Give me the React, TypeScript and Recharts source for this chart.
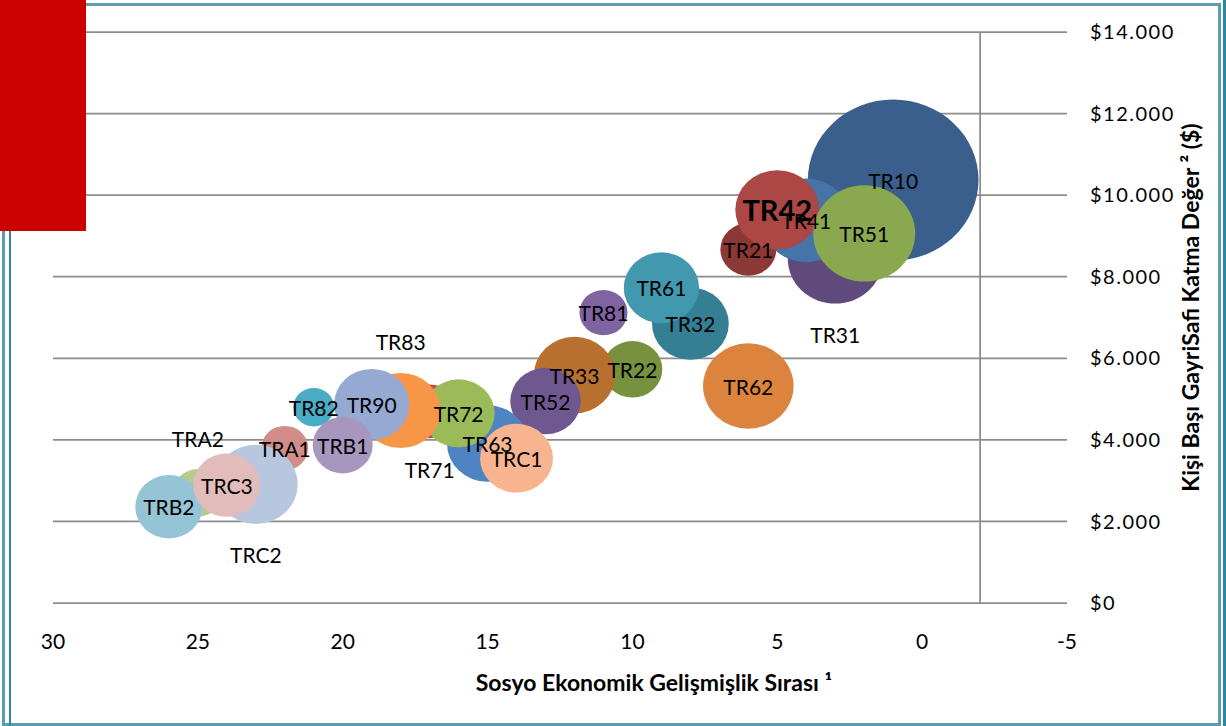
import React from 'react';
import { ScatterChart, Scatter, XAxis, YAxis, ZAxis, CartesianGrid, ReferenceLine, LabelList } from 'recharts';

// NUTS-2 regions, in drawing order
const regions = [
  'TR10', 'TR21', 'TR22', 'TR31', 'TR32', 'TR33', 'TR41', 'TR42', 'TR51', 'TR52', 'TR61', 'TR62', 'TR63',
  'TR71', 'TR72', 'TR81', 'TR82', 'TR83', 'TR90', 'TRA1', 'TRA2', 'TRB1', 'TRB2', 'TRC1', 'TRC2', 'TRC3',
];
// socio-economic development rank (x)
const seRank = [1, 6, 10, 3, 8, 12, 4, 5, 2, 13, 9, 6, 15, 17, 16, 11, 21, 18, 19, 22, 25, 20, 26, 14, 23, 24];
// gross value added per capita, $ (y)
const gvaPerCapita = [
  10370, 8670, 5730, 8440, 6850, 5590, 9380, 9640, 9060, 4950, 7730, 5320, 3910,
  4700, 4650, 7120, 4800, 4720, 4870, 3800, 2700, 3870, 2360, 3550, 2910, 2890,
];
// population, thousands (bubble size)
const population = [
  12600, 1350, 1550, 3900, 2550, 2850, 3400, 3050, 4500, 2150, 2450, 3550, 2850,
  1400, 2250, 1000, 720, 2750, 2450, 950, 1100, 1550, 1950, 2300, 3050, 1950,
];

const xTicks = [30, 25, 20, 15, 10, 5, 0, -5];
const yTicks = [0, 2000, 4000, 6000, 8000, 10000, 12000, 14000];

const xTitle = 'Sosyo Ekonomik Gelişmişlik Sırası ¹';
const yTitle = 'Kişi Başı GayriSafi Katma Değer ² ($)';

const bubbleColors: Record<string, string> = {
  TR10: '#3b5f8c', TR21: '#8c3836', TR22: '#77913f', TR31: '#5f4a7b', TR32: '#357f94', TR33: '#b8702f',
  TR41: '#4673a8', TR42: '#ab4744', TR51: '#8aa84f', TR52: '#6f578f', TR61: '#4198af', TR62: '#dc843d',
  TR63: '#4f84c2', TR71: '#c0504d', TR72: '#9bbb59', TR81: '#8064a2', TR82: '#4bacc6', TR83: '#f79646',
  TR90: '#95a9d3', TRA1: '#d38d88', TRA2: '#b6cb8e', TRB1: '#a797be', TRB2: '#94c4d6', TRC1: '#f8b48f',
  TRC2: '#b8c7e0', TRC3: '#e2bcbb',
};

// labels that sit outside their bubble
const labelPlacement: Record<string, 'above' | 'below'> = {
  TR31: 'below', TR71: 'below', TRC2: 'below', TR83: 'above', TRA2: 'above',
};

const points = regions.map((name, i) => ({
  name,
  rank: seRank[i],
  gva: gvaPerCapita[i],
  pop: population[i],
}));

const FONT = 'Lato, "Open Sans", sans-serif';
const STRETCH = 1.06;

const Bubble = (props: any) => {
  const { cx, cy, width, height, payload } = props;
  return (
    <ellipse
      cx={cx}
      cy={cy}
      rx={(width / 2) * STRETCH}
      ry={height / 2}
      fill={bubbleColors[payload?.name] ?? props.fill}
    />
  );
};

const BubbleLabel = (props: any) => {
  const vb = props.viewBox ?? props;
  const value = props.value;
  const r = vb.height / 2;
  const cx = vb.x + vb.width / 2;
  const cy = vb.y + vb.height / 2;
  const place = labelPlacement[value];
  const y = place === 'above' ? cy - r - 31 : place === 'below' ? cy + r + 31 : cy;
  const bold = value === 'TR42';
  return (
    <text
      x={cx}
      y={y}
      textAnchor="middle"
      dominantBaseline="central"
      fontFamily={FONT}
      fontSize={bold ? 29 : 21}
      fontWeight={bold ? 700 : 400}
      fill="#000"
    >
      {value}
    </text>
  );
};

const formatDollar = (v: number) => '$' + String(v).replace(/\B(?=(\d{3})+(?!\d))/g, '.');

const XTitle = (props: any) => {
  const vb = props.viewBox;
  return (
    <text x={vb.x + vb.width / 2 + 94} y={691} textAnchor="middle" fontFamily={FONT} fontSize={23} fontWeight={700} fill="#000">
      {xTitle}
    </text>
  );
};

const YTitle = (props: any) => {
  const vb = props.viewBox;
  const x = 1199;
  const y = vb.y + vb.height / 2 - 10;
  return (
    <text
      x={x}
      y={y}
      transform={`rotate(-90, ${x}, ${y})`}
      textAnchor="middle"
      fontFamily={FONT}
      fontSize={23}
      fontWeight={700}
      fill="#000"
    >
      {yTitle}
    </text>
  );
};

export default function App() {
  return (
    <div style={{ position: 'absolute', left: 0, top: 0, width: 1226, height: 726, background: '#fff', overflow: 'hidden' }}>
      <ScatterChart width={1226} height={726} margin={{ top: 32, right: 9, bottom: 23, left: 53 }}>
        <CartesianGrid vertical={false} stroke="#8c8c8c" strokeWidth={1.75} />
        <XAxis
          type="number"
          dataKey="rank"
          domain={[-5, 30]}
          ticks={xTicks}
          interval={0}
          reversed
          allowDataOverflow
          axisLine={false}
          tickLine={false}
          tickSize={0}
          tickMargin={31}
          height={100}
          tick={{ fontFamily: FONT, fontSize: 21, fill: '#000' }}
          label={{ content: XTitle }}
        />
        <YAxis
          type="number"
          dataKey="gva"
          orientation="right"
          domain={[0, 14000]}
          ticks={yTicks}
          interval={0}
          allowDataOverflow
          width={150}
          axisLine={false}
          tickLine={false}
          tickSize={0}
          tickMargin={23}
          tickFormatter={formatDollar}
          tick={{ fontFamily: FONT, fontSize: 20, fill: '#000', letterSpacing: 1.5 }}
          label={{ content: YTitle }}
        />
        <ZAxis type="number" dataKey="pop" domain={[0, 12600]} range={[0, 20358]} />
        <ReferenceLine x={-2} stroke="#8c8c8c" strokeWidth={1.75} />
        <Scatter data={points} shape={Bubble} isAnimationActive={false}>
          <LabelList dataKey="name" content={BubbleLabel} />
        </Scatter>
      </ScatterChart>
      {/* frame */}
      <div style={{ position: 'absolute', left: 2, top: 3, width: 1219, height: 723, boxSizing: 'border-box', border: '3px solid #5c9bb1', pointerEvents: 'none' }} />
      <div style={{ position: 'absolute', left: 9, top: 0, width: 2, height: 726, background: '#2e86a0' }} />
      <div style={{ position: 'absolute', left: 1223, top: 0, width: 3, height: 726, background: '#2e86a0' }} />
      <div style={{ position: 'absolute', left: 0, top: 0, width: 86, height: 231, background: '#cc0000' }} />
    </div>
  );
}
